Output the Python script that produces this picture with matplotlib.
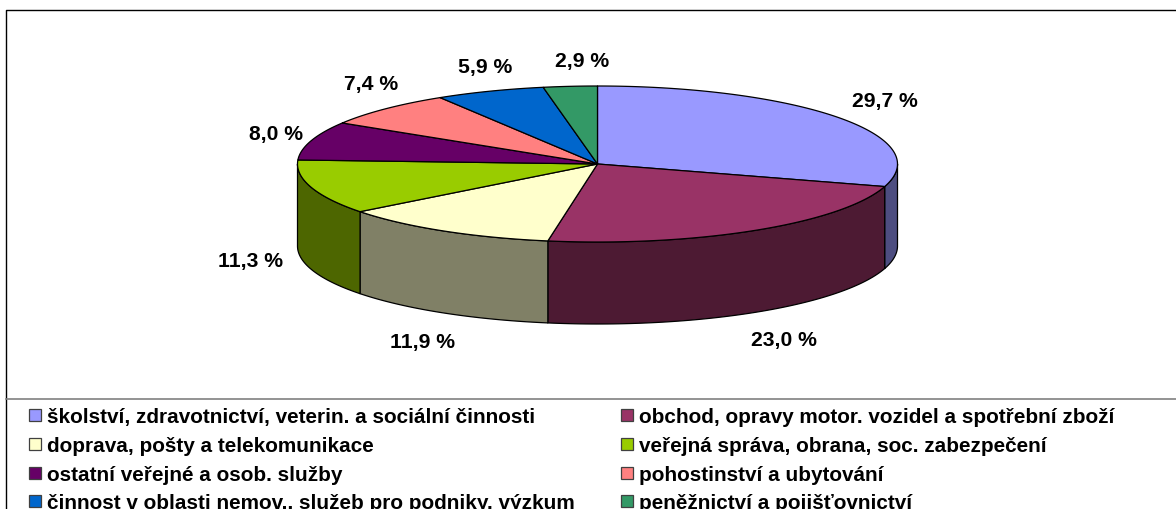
import numpy as np
import matplotlib
matplotlib.use("Agg")
import matplotlib.pyplot as plt
from matplotlib.patches import Rectangle

plt.rcParams['font.family'] = ['Liberation Sans', 'DejaVu Sans']

categories = ["školství, zdravotnictví, veterin. a sociální činnosti",
              "obchod, opravy motor. vozidel a spotřební zboží",
              "doprava, pošty a telekomunikace",
              "veřejná správa, obrana, soc. zabezpečení",
              "ostatní veřejné a osob. služby",
              "pohostinství a ubytování",
              "činnost v oblasti nemov., služeb pro podniky, výzkum",
              "peněžnictví a pojišťovnictví"]
values = [29.7, 23.0, 11.9, 11.3, 8.0, 7.4, 5.9, 2.9]
colors = ["#9999ff", "#993366", "#ffffcc", "#99cc00", "#660066", "#ff8080", "#0066cc", "#339966"]
side_colors = ["#4d4d80", "#4d1a33", "#808066", "#4d6600", "#330033", "#804040", "#003366", "#1a4d33"]

# pie geometry in pixels
cx, cy = 597.5, 165
rx, ry = 300, 78
depth = 82

label_pos = [(885, 101.5), (784, 340.5), (423, 342.5), (251, 261.5),
             (276, 134.5), (371, 84.5), (485, 68), (582, 61)]


def ellipse(a):
    return cx + rx * np.sin(a), cy - ry * np.cos(a)


fig = plt.figure(figsize=(11.76, 5.10), dpi=100)
ax = fig.add_axes([0, 0, 1, 1])
ax.set_xlim(0, 1176)
ax.set_ylim(510, 0)
ax.axis("off")

# chart frame
ax.plot([6, 6, 1176], [510, 11, 11], color="black", lw=1.0)
ax.plot([6, 1176], [400, 400], color="#808080", lw=1.2)

edges = np.cumsum([0] + values) / sum(values) * 2 * np.pi

# walls first, only the front half shows
for i in range(len(values)):
    a0 = max(edges[i], np.pi / 2)
    a1 = min(edges[i + 1], 3 * np.pi / 2)
    if a1 <= a0:
        continue
    t = np.linspace(a0, a1, 80)
    x, y = ellipse(t)
    ax.fill(np.r_[x, x[::-1]], np.r_[y, y[::-1] + depth],
            facecolor=side_colors[i], edgecolor="black", lw=0.9, joinstyle="round")

# top of the pie
for i in range(len(values)):
    t = np.linspace(edges[i], edges[i + 1], 120)
    x, y = ellipse(t)
    ax.fill(np.r_[cx, x], np.r_[cy, y],
            facecolor=colors[i], edgecolor="black", lw=0.9, joinstyle="round")

for v, (lx, ly) in zip(values, label_pos):
    ax.text(lx, ly, f"{v:.1f} %".replace(".", ","), ha="center", va="center",
            fontsize=15.2, fontweight="bold", color="black")

# legend, two columns
leg_x = [29, 621]
leg_y = [416, 445, 474, 502]
for i, name in enumerate(categories):
    px = leg_x[i % 2]
    py = leg_y[i // 2]
    ax.add_patch(Rectangle((px, py - 6), 12, 12, facecolor=colors[i],
                           edgecolor="#404040", lw=0.9))
    ax.text(px + 18, py + 1.5, name, ha="left", va="center",
            fontsize=14.95, fontweight="bold", color="black")

fig.savefig("out.png", dpi=100)
